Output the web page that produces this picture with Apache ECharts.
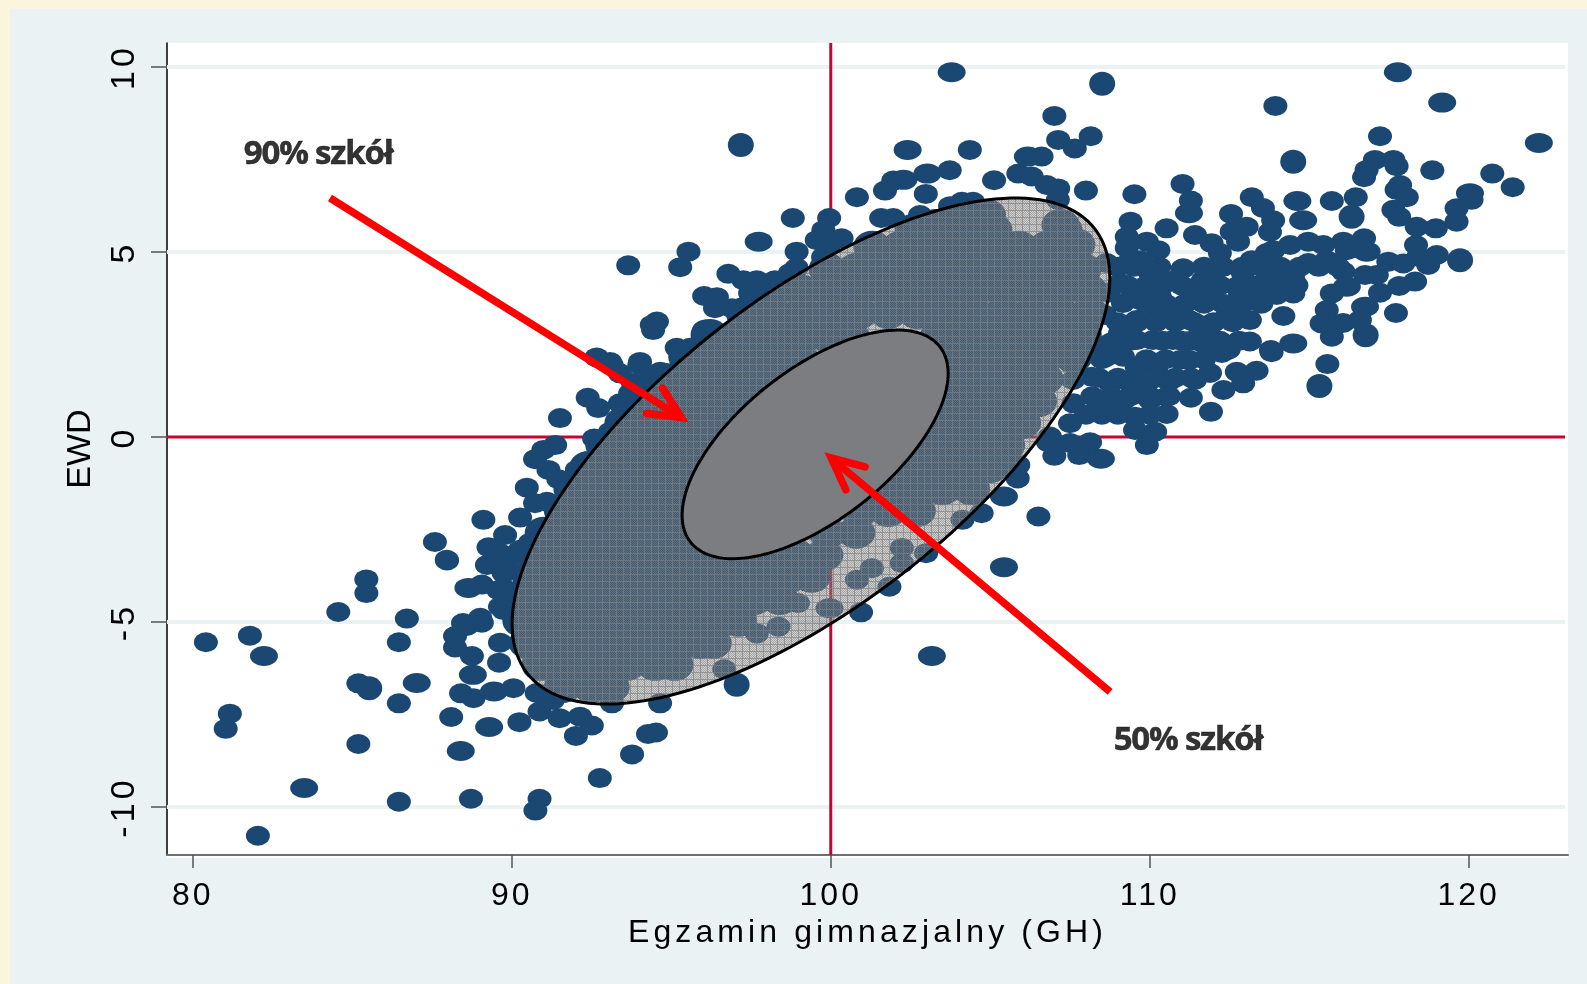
<!DOCTYPE html>
<html><head><meta charset="utf-8">
<style>html,body{margin:0;padding:0;background:#FBF5DE}#c{width:1587px;height:984px}</style>
<script src="https://cdn.jsdelivr.net/npm/echarts@6/dist/echarts.min.js"></script>
</head><body><div id="c"></div>
<script>
const xTicks=[80,90,100,110,120];
const yTicks=[-10,-5,0,5,10];
const gridLevels=[-10,-5,5,10];
const xRange=[79.19,123.02];
const yRange=[-11.3,10.65];
const xTitle='Egzamin gimnazjalny (GH)';
const yTitle='EWD';
const notes=[[83.93,7.62,'90% szkół'],[111.2,-8.22,'50% szkół']];
const arrows=[[84.30,6.46,95.53,0.41],[108.76,-6.89,99.82,-0.43]];
// concentration ellipses: centre x, centre y, half-width, half-height, tilt correlation
const ellipse90=[99.38,-0.38,9.37,6.84,0.684];
const ellipse50=[99.51,-0.20,4.17,3.09,0.62];
const dotsWide=[[82.23,-5.92],[87.02,-6.65],[83.49,-9.49],[89.29,-7.84],[88.40,-8.49],[89.44,-6.88],[88.78,-6.43],[88.64,-4.08],[103.79,9.86],[102.41,7.76],[106.18,7.58],[103.03,7.12],[102.28,6.95],[97.74,5.28],[117.78,9.86],[119.17,9.04],[122.20,7.95],[114.81,5.86],[114.63,6.38],[111.23,6.05],[120.04,6.59],[116.80,5.01],[116.75,3.52],[116.18,4.06],[114.50,2.53],[112.41,2.35],[108.47,-0.59],[105.43,-1.61],[105.43,-3.52],[103.17,-5.92],[99.96,-4.63]];
const dotsLarge=[[85.53,-6.79],[97.18,7.89],[108.51,9.55],[114.50,7.44],[116.33,5.95],[119.73,4.78],[116.77,2.75],[115.32,1.38],[97.05,-6.70]];
const dotsRegular=[[80.41,-5.55],[81.79,-5.37],[86.46,-5.55],[86.71,-4.91],[84.56,-4.73],[85.44,-3.85],[85.44,-4.22],[85.19,-6.66],[86.46,-7.20],[81.16,-7.48],[81.03,-7.89],[85.19,-8.30],[86.46,-9.86],[82.04,-10.78],[88.72,-9.78],[90.87,-9.78],[90.74,-10.10],[92.76,-9.22],[93.77,-8.58],[94.27,-8.03],[94.52,-7.99],[88.10,-7.57],[90.24,-7.71],[90.87,-7.42],[91.50,-7.60],[92.01,-8.08],[92.51,-7.80],[92.14,-7.56],[88.41,-6.93],[88.80,-7.06],[90.05,-6.79],[89.60,-6.10],[88.75,-5.92],[88.22,-5.69],[88.22,-5.38],[88.59,-5.11],[89.06,-5.02],[89.63,-5.56],[89.06,-3.99],[89.58,-4.14],[89.74,-4.68],[87.96,-3.32],[89.22,-3.46],[89.84,-3.51],[93.14,-7.20],[94.65,-7.20],[90.78,-6.92],[91.29,-7.11],
[87.59,-2.84],[87.97,-3.34],[89.11,-2.24],[89.79,-2.65],[89.27,-2.98],[89.63,-3.14],[89.27,-3.44],[89.74,-3.68],[90.26,-2.18],[90.47,-1.37],[90.73,-1.79],[91.10,-1.75],[90.73,-0.60],[90.99,-0.35],[91.36,-0.22],[91.15,-0.89],[91.46,-1.14],[92.04,-0.89],[91.51,0.51],[92.38,1.06],[92.71,0.78],[93.39,0.91],[93.71,1.18],[92.58,-0.04],[93.08,0.14],[92.66,2.15],[93.13,1.95],[93.39,1.72],[94.00,1.95],[94.65,1.76],[94.34,1.59],[95.17,2.41],[94.43,2.89],[96.00,2.81],[95.59,2.41],[93.80,1.46],[89.01,-4.89],[88.47,-5.03],[89.63,-4.59],[89.85,-4.14],[90.57,-2.86],[90.26,-3.05],[89.85,-3.41],
[107.01,8.68],[107.13,8.03],[107.65,7.80],[108.15,8.13],[104.36,7.76],[106.61,7.58],[103.73,7.21],[101.96,6.93],[101.70,6.66],[102.98,6.57],[100.82,6.48],[105.12,6.94],[105.88,7.12],[106.30,7.04],[106.77,6.81],[107.13,6.72],[108.00,6.66],[107.12,6.41],[104.11,6.36],[104.46,6.36],[103.74,6.24],[102.80,6.00],[101.58,5.92],[101.96,5.92],[98.81,5.92],[99.95,5.92],[99.77,5.59],[99.56,5.32],[100.34,5.37],[99.98,5.24],[98.93,5.01],[95.54,5.01],[95.28,4.59],[93.65,4.64],[98.93,4.57],[99.76,4.86],[96.79,4.41],[97.26,4.24],[97.68,4.24],[98.25,4.24],[98.72,4.43],[97.47,3.89],[96.03,3.81],[96.43,3.78],[96.90,3.48],[96.37,3.48],[94.55,3.12],[94.39,3.03],[96.03,2.89],[94.02,2.03],[93.08,2.03],
[113.94,8.95],[117.22,8.13],[118.86,7.21],[120.74,7.12],[121.38,6.75],[117.06,7.49],[117.64,7.49],[116.80,7.22],[117.74,7.32],[116.72,7.02],[117.85,6.81],[117.74,6.68],[118.06,6.48],[117.64,6.14],[117.82,5.95],[118.37,5.68],[118.97,5.64],[119.62,5.82],[119.62,6.18],[120.09,6.41],[116.46,6.48],[115.71,6.38],[113.20,6.48],[113.55,6.19],[112.55,6.03],[113.87,5.86],[113.77,5.54],[113.04,5.68],[112.57,5.55],[112.77,5.28],[110.53,5.64],[111.03,6.84],[111.29,6.39],[109.52,6.56],[109.40,5.82],[109.28,5.41],[109.91,5.28],[110.27,5.05],[109.28,5.11],[109.70,4.78],[110.17,4.57],[111.42,5.46],[111.94,5.24],[112.20,4.97],[111.03,4.54],[110.85,4.20],[111.89,4.51],[111.67,4.24],[113.20,4.78],[113.67,4.97],[113.87,5.05],[114.40,5.19],[114.97,5.28],[115.44,5.19],[116.07,5.28],[116.72,5.37],[116.18,5.05],[114.97,4.70],[115.55,4.78],[116.07,4.47],[116.75,4.38],[117.12,4.38],[117.48,4.74],[117.95,4.69],[118.42,4.87],[119.00,4.92],[118.35,5.19],[118.73,4.65],[117.82,4.08],[118.32,4.20],[117.22,3.90],[117.72,3.35],[116.59,3.16],[115.71,2.71],[115.39,3.07],[116.06,3.08],[115.55,3.43],[115.71,3.88],[113.80,2.35],[115.57,1.97],[114.19,3.27],[114.50,3.88],[113.98,3.84],[113.46,3.79],[113.14,3.16],[113.14,2.58],[111.68,2.53],[111.79,2.98],[112.41,3.25],[111.79,3.88],[112.83,3.89],[112.92,4.43],[113.77,4.43],[114.49,4.32],
[113.82,2.29],[113.35,1.79],[112.93,1.45],[112.31,1.27],[112.73,1.76],[111.89,1.73],[112.26,2.27],[111.68,2.62],[111.92,0.68],[111.29,1.06],[110.53,0.62],[111.42,1.54],[110.53,1.09],[109.91,-0.22],[110.17,0.14],[109.54,0.19],[109.54,0.55],[108.86,0.73],[108.39,0.78],[108.76,1.46],[108.13,-0.14],[107.79,-0.49],[107.50,-0.16],[107.01,-0.51],[107.50,0.37],[107.61,0.91],[106.87,0.01],[108.18,1.63],[108.65,2.17],[108.76,2.54],[109.16,2.17],[109.91,1.45],[109.38,1.46],[109.59,1.90],[110.22,1.90],[110.95,2.08],[110.73,2.62],[110.10,2.62],[109.59,2.62],[109.59,3.16],[110.22,3.25],[110.85,3.25],[111.37,3.79],[110.79,4.24],[111.05,4.56],[109.70,3.70],[109.07,4.16],[109.32,4.70],[108.65,4.70],[110.01,4.43],[110.32,3.78],[111.98,3.08],[112.61,3.24],[112.83,3.70],[111.98,4.16],[113.04,3.97],[109.16,3.62],[109.07,2.81],[108.22,2.35],[107.60,1.54],[111.25,3.16],[111.25,2.08],[110.01,1.00],[109.20,1.00],[111.30,2.60],[110.60,1.50],[108.60,3.30],[108.70,3.90],
[100.95,-4.74],[101.84,-4.05],[102.99,-3.14],[104.13,-2.24],[104.73,-2.06],[105.86,-1.12],[105.88,-0.76],[106.51,-2.15],[106.81,-0.14],[96.66,-6.28],[98.36,-5.13],[97.68,-5.31],[100.82,-3.86],[101.29,-3.55],[102.23,-3.00],[102.23,-3.41],[98.97,-4.49],
[109.0,4.6],[109.5,4.6],[110.3,4.6],[111.7,4.6],[112.3,4.6],[112.9,4.6],[113.5,4.6],[114.1,4.6],[114.7,4.6],[115.3,4.6],[115.9,4.6],
[109.3,4.1],[109.9,4.1],[110.4,4.1],[111.0,4.1],[111.6,4.1],[112.2,4.1],[112.8,4.1],[113.4,4.1],[114.0,4.1],[114.6,4.1],
[109.9,3.6],[110.5,3.6],[111.1,3.6],[111.7,3.6],[112.3,3.6],[112.9,3.6],[113.5,3.6],
[109.0,3.1],[109.6,3.1],[110.2,3.1],[110.8,3.1],[111.4,3.1],[112.0,3.1],[112.6,3.1],
[108.9,2.6],[109.4,2.6],[110.4,2.6],[111.0,2.6],[111.6,2.6],[112.2,2.6],[112.8,2.6],
[108.5,2.1],[109.9,2.1],[110.5,2.1],[111.1,2.1],[111.7,2.1],
[108.4,1.6],[109.0,1.6],[110.2,1.6],[110.8,1.6],[111.3,1.6],
[108.2,1.1],[108.8,1.1],[109.4,1.1],[110.0,1.1],[110.6,1.1],
[108.0,0.6],[108.5,0.6],[109.0,0.6],[110.0,0.6]];
const dotsUnderEllipse=[[102.6,5.6],[103.3,5.73],[104.2,5.73],[104.9,6.0],[105.1,5.6],[107.2,5.73],[107.3,5.6],[107.7,5.2],
[101.3,5.14],[102.2,5.14],[103.1,5.14],[104.0,5.14],[105.0,5.14],[105.9,5.14],[106.8,5.14],
[99.9,4.54],[100.8,4.54],[101.7,4.54],[102.6,4.54],[103.5,4.54],[104.4,4.54],[105.3,4.54],[106.2,4.54],[107.1,4.54],[107.9,4.54],
[98.2,3.95],[99.1,3.95],[100,3.95],[100.9,3.95],[101.8,3.95],[102.7,3.95],[103.6,3.95],[104.5,3.95],[105.4,3.95],[106.3,3.95],[107.2,3.95],[108.1,3.95],
[97.3,3.35],[98.2,3.35],[99.1,3.35],[100,3.35],[100.9,3.35],[101.8,3.35],[102.7,3.35],[103.6,3.35],[104.5,3.35],[105.4,3.35],[106.3,3.35],[107.2,3.35],[108.1,3.35],
[96.2,2.76],[97.1,2.76],[98,2.76],[98.9,2.76],[99.8,2.76],[100.6,2.76],[103.4,2.76],[104.3,2.76],[105.2,2.76],[106.1,2.76],[107,2.76],[107.9,2.76],
[95.5,2.16],[96.4,2.16],[97.3,2.16],[98.2,2.16],[99,2.16],[104,2.16],[104.9,2.16],[105.8,2.16],[106.7,2.16],[107.6,2.16],
[94.8,1.57],[95.7,1.57],[96.6,1.57],[97.5,1.57],[98.4,1.57],[104,1.57],[104.9,1.57],[105.8,1.57],[106.7,1.57],
[94.1,0.97],[95,0.97],[95.9,0.97],[96.8,0.97],[97.7,0.97],[103.8,0.97],[104.7,0.97],[105.6,0.97],[106.5,0.97],
[93.5,0.38],[94.4,0.38],[95.3,0.38],[96.2,0.38],[97.1,0.38],[103.3,0.38],[104.2,0.38],[105.1,0.38],[106,0.38],
[92.9,-0.22],[93.8,-0.22],[94.7,-0.22],[95.6,-0.22],[96.5,-0.22],[102.8,-0.22],[103.7,-0.22],[104.6,-0.22],[105.5,-0.22],
[92.4,-0.81],[93.3,-0.81],[94.2,-0.81],[95.1,-0.81],[96,-0.81],[102.3,-0.81],[103.2,-0.81],[104.1,-0.81],[105,-0.81],
[91.9,-1.41],[92.8,-1.41],[93.7,-1.41],[94.6,-1.41],[95.5,-1.41],[101.7,-1.41],[102.6,-1.41],[103.5,-1.41],[104.4,-1.41],
[91.6,-2],[92.5,-2],[93.4,-2],[94.3,-2],[95.2,-2],[100.9,-2],[101.8,-2],[102.7,-2],
[91,-2.59],[91.9,-2.59],[92.8,-2.59],[93.7,-2.59],[94.6,-2.59],[95.5,-2.59],[99.9,-2.59],[100.8,-2.59],
[90.7,-3.19],[91.6,-3.19],[92.5,-3.19],[93.4,-3.19],[94.3,-3.19],[95.2,-3.19],[96.1,-3.19],[97,-3.19],[98,-3.19],[98.9,-3.19],[99.8,-3.19],
[90.6,-3.78],[91.5,-3.78],[92.4,-3.78],[93.3,-3.78],[94.2,-3.78],[95.1,-3.78],[96,-3.78],[96.9,-3.78],[97.8,-3.78],[98.7,-3.78],[99.4,-3.78],
[90.4,-4.38],[91.3,-4.38],[92.2,-4.38],[93.1,-4.38],[94,-4.38],[94.9,-4.38],[95.8,-4.38],[96.7,-4.38],[97.6,-4.38],[98.4,-4.38],
[90.3,-4.97],[91.2,-4.97],[92.1,-4.97],[93,-4.97],[93.9,-4.97],[94.8,-4.97],[95.7,-4.97],[96.6,-4.97],[97.1,-4.97],
[90.5,-5.57],[91.4,-5.57],[92.3,-5.57],[93.2,-5.57],[94.1,-5.57],[95,-5.57],[95.9,-5.57],[96.3,-5.57],
[90.9,-6.16],[91.8,-6.16],[92.7,-6.16],[93.6,-6.16],[94.5,-6.16],[95.1,-6.16],
[91.6,-6.76],[92.5,-6.76],[93.1,-6.76]];

const tracking={[xTitle]:'4.1px','80':'3px','90':'3px','100':'3px','110':'3px','120':'3px','90% szkół':'-1.2px','50% szkół':'-1.2px'};
for(const method of ['fillText','strokeText']){
  const base=CanvasRenderingContext2D.prototype[method];
  CanvasRenderingContext2D.prototype[method]=function(t,x,y,m){
    const draw=()=>m===undefined?base.call(this,t,x,y):base.call(this,t,x,y,m);
    if(tracking[t]&&'letterSpacing' in this){const o=this.letterSpacing;this.letterSpacing=tracking[t];draw();this.letterSpacing=o;return;}
    draw();
  };
}

function hatch(){
  const n=7,c=document.createElement('canvas');c.width=c.height=n;const g=c.getContext('2d');
  for(let i=0;i<n;i++)for(let j=0;j<n;j++){
    const a=(i===0||j===0)?0.85:((i+j)%2?0.72:0.36);
    g.fillStyle='rgba(128,128,128,'+a+')';g.fillRect(i,j,1,1);
  }
  return c;
}
const pattern={image:hatch(),repeat:'repeat'};
const DOT='#1B4872';
function scatter(d,size,z){return {type:'scatter',data:d,symbol:'circle',symbolSize:size,itemStyle:{color:DOT,opacity:1},z:z||3,silent:true,animation:false,large:false};}
function hline(v,color,w){return {type:'line',data:[[xRange[0],v],[xRange[1],v]],showSymbol:false,symbol:'none',lineStyle:{color:color,width:w},z:1,silent:true,animation:false};}
function blob(e,fill){const [cx,cy,sx,sy,r]=e,q=Math.sqrt(1-r*r);
  return {type:'custom',data:[[cx,cy]],z:5,silent:true,animation:false,clip:false,
  renderItem:(p,api)=>{const pts=[];
    for(let i=0;i<180;i++){const t=i*Math.PI/90;
      pts.push(api.coord([cx+sx*Math.cos(t),cy+sy*(r*Math.cos(t)+q*Math.sin(t))]));}
    return {type:'polygon',shape:{points:pts},style:{fill:fill,stroke:'#000',lineWidth:3}};}};}

const chart=echarts.init(document.getElementById('c'),null,{renderer:'canvas'});
chart.setOption({
  animation:false,
  backgroundColor:'#FBF5DE',
  graphic:[
    {type:'rect',z:-2,silent:true,shape:{x:10,y:9,width:1577,height:975},style:{fill:'#EAF2F3'}},
    {type:'rect',z:-1,silent:true,shape:{x:167,y:43,width:1401,height:815},style:{fill:'#FFFFFF'}}
  ],
  grid:{left:167,top:43,width:1401,height:812,containLabel:false},
  xAxis:{type:'value',min:xRange[0],max:xRange[1]+(1568-1565)/31.9,
    name:xTitle,nameLocation:'middle',nameGap:59,
    nameTextStyle:{fontFamily:'Liberation Sans',fontSize:32,color:'#000'},
    axisLine:{show:true,onZero:false,lineStyle:{color:'#6f6f6f',width:2}},
    axisTick:{show:true,length:13,customValues:xTicks,lineStyle:{color:'#555',width:1.5}},
    axisLabel:{show:true,customValues:xTicks,margin:25,fontFamily:'Liberation Sans',fontSize:32,color:'#000'},
    splitLine:{show:false}},
  yAxis:{type:'value',min:yRange[0],max:yRange[1],
    name:yTitle,nameLocation:'middle',nameGap:69,nameRotate:90,
    nameTextStyle:{fontFamily:'Liberation Sans',fontSize:34,color:'#000'},
    axisLine:{show:true,onZero:false,lineStyle:{color:'#000',width:1.5}},
    axisTick:{show:true,length:16,customValues:yTicks,lineStyle:{color:'#555',width:1.5}},
    axisLabel:{show:true,customValues:yTicks,rotate:90,margin:25,fontFamily:'Liberation Sans',fontSize:34,color:'#000'},
    splitLine:{show:false}},
  series:[
    ...gridLevels.map(v=>hline(v,'#EAF2F3',4)),
    hline(0,'#C10534',3),
    {type:'line',data:[[100,yRange[0]],[100,yRange[1]]],showSymbol:false,symbol:'none',lineStyle:{color:'#C10534',width:3},z:1,silent:true,animation:false},
    scatter(dotsUnderEllipse,[38,32]),
    scatter(dotsRegular,[24,20]),
    scatter(dotsWide,[28,20]),
    scatter(dotsLarge,[26,24]),
    blob(ellipse90,pattern),
    blob(ellipse50,'#7B7D80'),
    {type:'custom',data:arrows,z:7,silent:true,animation:false,clip:false,
      renderItem:(p,api)=>{
        const a=api.coord([api.value(0),api.value(1)]),b=api.coord([api.value(2),api.value(3)]);
        const th=Math.atan2(b[1]-a[1],b[0]-a[0]),ux=Math.cos(th),uy=Math.sin(th);
        const tip=[b[0]-8*ux,b[1]-8*uy];
        const barb=s=>[tip[0]-35*Math.cos(th+s*0.44),tip[1]-35*Math.sin(th+s*0.44)];
        const st={stroke:'#FF0000',lineWidth:7.5,fill:null};
        return {type:'group',children:[
          {type:'line',shape:{x1:a[0],y1:a[1],x2:tip[0],y2:tip[1]},style:st},
          {type:'polyline',shape:{points:[barb(1),tip,barb(-1)]},style:{...st,lineCap:'round',lineJoin:'miter',miterLimit:12}}
        ]};
      }},
    {type:'scatter',data:notes.map(n=>({value:[n[0],n[1]],name:n[2]})),symbolSize:0,z:8,silent:true,animation:false,
      label:{show:true,position:'inside',formatter:o=>o.name,fontFamily:'Open Sans',fontWeight:700,fontSize:33,color:'#000',textBorderColor:'#000',textBorderWidth:0.5}}
  ]
});
</script></body></html>
